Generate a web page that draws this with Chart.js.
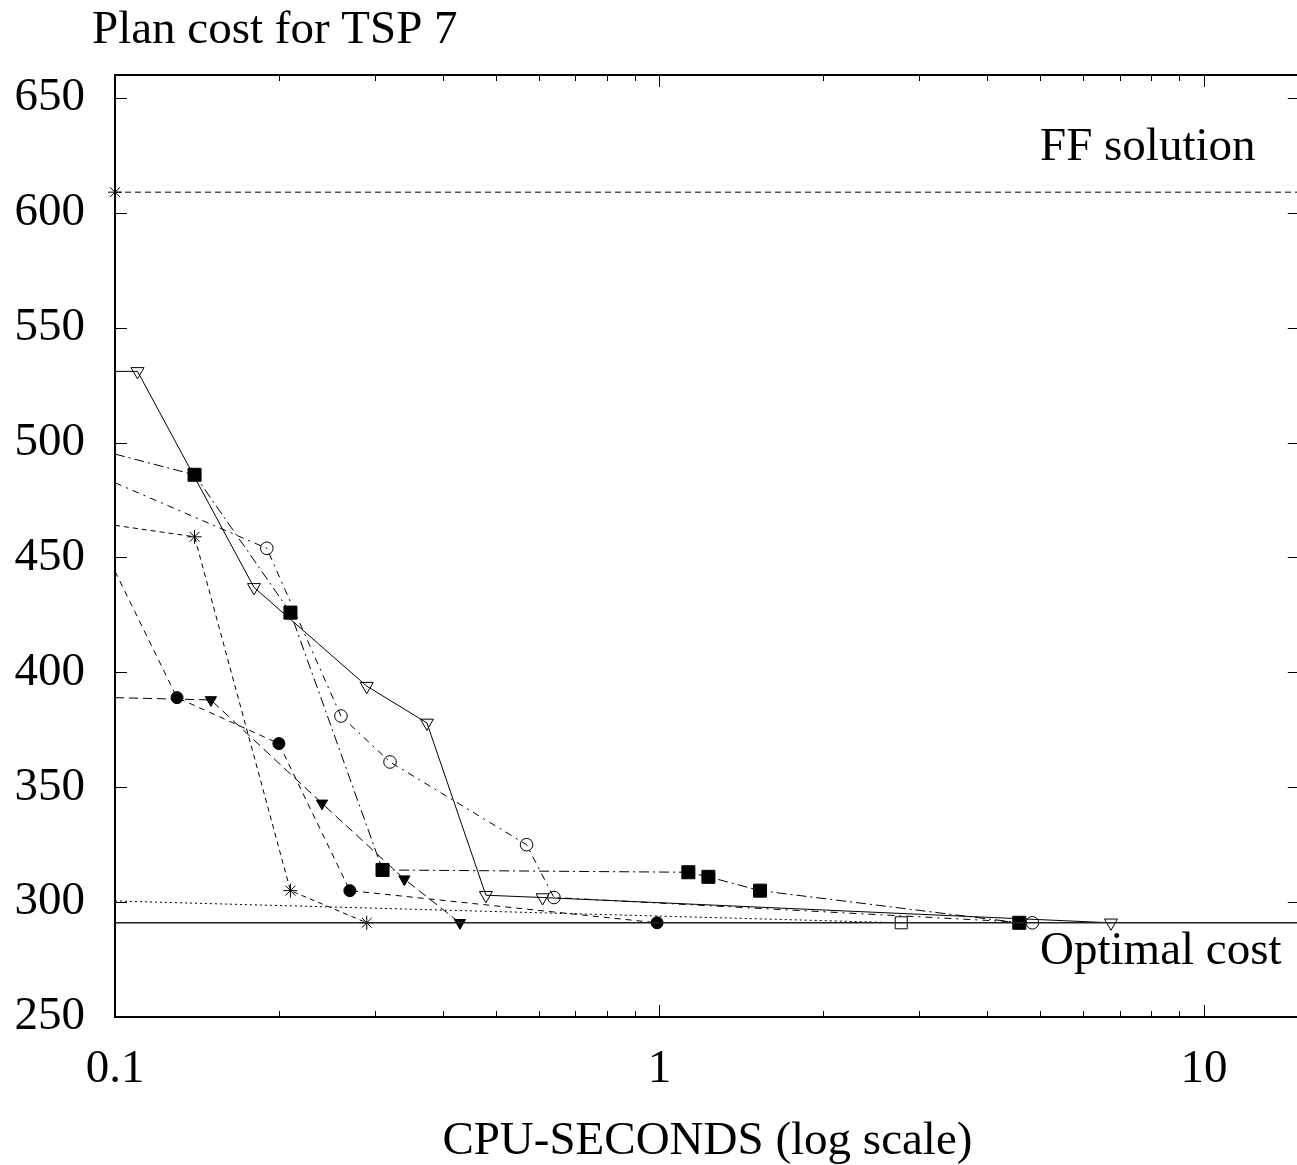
<!DOCTYPE html>
<html>
<head>
<meta charset="utf-8">
<script src="https://cdn.jsdelivr.net/npm/chart.js@4.4.1/dist/chart.umd.min.js"></script>
<style>
  html, body { margin: 0; padding: 0; background: #fff; overflow: hidden; width: 1297px; height: 1165px; }
  #wrap { width: 1297px; height: 1165px; overflow: hidden; position: relative; }
  #plot { display: block; position: absolute; left: 0; top: 0; }
</style>
</head>
<body>
<div id="wrap"><canvas id="plot" width="1310" height="1165"></canvas></div>
<script>
// CPU seconds / plan cost per search run (first entry is where each run enters the 0.1 s edge)
var triOpenSecs  = [0.1, 0.11, 0.18, 0.29, 0.374, 0.48, 0.61, 6.75];
var triOpenCost  = [531, 531, 437, 394, 378, 303, 302, 291];

var boxFillSecs  = [0.1, 0.14, 0.21, 0.31, 1.13, 1.23, 1.53, 4.58];
var boxFillCost  = [495, 486, 426, 314, 313, 311, 305, 291];

var ringSecs     = [0.1, 0.19, 0.26, 0.32, 0.57, 0.64, 4.84];
var ringCost     = [482.5, 454, 381, 361, 325, 302, 291];

var dotSecs      = [0.1, 0.13, 0.2, 0.27, 0.99];
var dotCost      = [444, 389, 369, 305, 291];

var triFillSecs  = [0.1, 0.15, 0.24, 0.34, 0.43];
var triFillCost  = [389, 388, 343, 310, 291];

var starSecs     = [0.1, 0.14, 0.21, 0.29];
var starCost     = [464, 459, 305, 291];

var boxOpenSecs  = [0.1, 2.78];
var boxOpenCost  = [300.5, 291];

// reference levels
var ffCost = 609;
var optimalCost = 291;
var refSecs = [0.1, 15];

var yTickValues = [250, 300, 350, 400, 450, 500, 550, 600, 650];
var xTickLabels = ['0.1', '1', '10'];

var FONT = '"Liberation Serif", "Times New Roman", serif';

function series(xs, ys, style, dash, radius, filled, rotation) {
  return {
    data: xs.map(function(v, i) { return {x: v, y: ys[i]}; }),
    borderColor: '#000',
    borderWidth: 1,
    borderDash: dash,
    tension: 0,
    fill: false,
    pointStyle: style,
    pointRotation: rotation || 0,
    // the edge entry carries no marker
    pointRadius: function(c) { return c.dataIndex === 0 ? 0 : radius; },
    pointBackgroundColor: filled ? '#000' : 'rgba(0,0,0,0)',
    pointBorderColor: '#000',
    pointBorderWidth: 1
  };
}

var ffLine = {
  data: refSecs.map(function(v) { return {x: v, y: ffCost}; }),
  borderColor: '#000', borderWidth: 1, borderDash: [6, 4], fill: false,
  pointStyle: 'star',
  pointRadius: function(c) { return c.dataIndex === 0 ? 7 : 0; },
  pointBorderColor: '#000', pointBorderWidth: 1,
  clip: false
};

var optimalLine = {
  data: refSecs.map(function(v) { return {x: v, y: optimalCost}; }),
  borderColor: '#222', borderWidth: 1.5, fill: false, pointRadius: 0
};

// inward ticks on all four sides plus the frame
var frameTicks = {
  id: 'frameTicks',
  afterDatasetsDraw: function(chart) {
    var ctx = chart.ctx, a = chart.chartArea, x = chart.scales.x, y = chart.scales.y;
    ctx.save();
    ctx.strokeStyle = '#000';
    ctx.lineWidth = 1;
    ctx.beginPath();
    yTickValues.forEach(function(v) {
      var py = Math.round(y.getPixelForValue(v)) + 0.5;
      ctx.moveTo(a.left, py); ctx.lineTo(a.left + 12, py);
      ctx.moveTo(a.right, py); ctx.lineTo(a.right - 12, py);
    });
    [0.1, 1, 10].forEach(function(dec) {
      for (var m = 1; m <= 9; m++) {
        var v = dec * m;
        if (v > x.max) break;
        var len = m === 1 ? 12 : 6;
        var px = Math.round(x.getPixelForValue(v)) + 0.5;
        ctx.moveTo(px, a.bottom); ctx.lineTo(px, a.bottom - len);
        ctx.moveTo(px, a.top); ctx.lineTo(px, a.top + len);
      }
    });
    ctx.stroke();
    ctx.lineWidth = 2;
    ctx.strokeRect(a.left, a.top, a.right - a.left, a.bottom - a.top);
    ctx.restore();
  }
};

var captions = {
  id: 'captions',
  afterDraw: function(chart) {
    var ctx = chart.ctx, a = chart.chartArea, x = chart.scales.x, y = chart.scales.y;
    ctx.save();
    ctx.fillStyle = '#000';
    ctx.font = '47px ' + FONT;
    ctx.textBaseline = 'alphabetic';
    ctx.textAlign = 'left';
    ctx.fillText('Plan cost for TSP 7', 92, 43);
    ctx.fillText('FF solution', x.getPixelForValue(5), y.getPixelForValue(623));
    ctx.fillText('Optimal cost', x.getPixelForValue(5), y.getPixelForValue(273));
    ctx.textAlign = 'center';
    ctx.fillText('CPU-SECONDS (log scale)', (a.left + a.right) / 2, 1154);
    ctx.restore();
  }
};

new Chart(document.getElementById('plot'), {
  type: 'line',
  data: {
    datasets: [
      optimalLine,
      ffLine,
      series(boxOpenSecs, boxOpenCost, 'rect', [2, 3], 8.5, false),
      series(starSecs, starCost, 'star', [5, 4], 7, false),
      series(dotSecs, dotCost, 'circle', [6, 5], 6, true),
      series(triFillSecs, triFillCost, 'triangle', [9, 5], 6.5, true, 180),
      series(ringSecs, ringCost, 'circle', [7, 5, 2, 5], 6.3, false),
      series(boxFillSecs, boxFillCost, 'rect', [10, 4, 2, 4], 9.2, true),
      series(triOpenSecs, triOpenCost, 'triangle', [], 7.5, false, 180)
    ]
  },
  options: {
    responsive: false,
    animation: false,
    events: [],
    layout: { padding: { top: 75, right: 7, left: 0, bottom: 0 } },
    plugins: { legend: { display: false }, tooltip: { enabled: false } },
    scales: {
      x: {
        type: 'logarithmic',
        min: 0.1,
        max: 15,
        grid: { display: false, drawTicks: false },
        border: { display: false },
        ticks: {
          autoSkip: false,
          maxRotation: 0,
          padding: 24,
          color: '#000',
          font: { family: FONT, size: 47 },
          callback: function(v) {
            for (var i = 0; i < xTickLabels.length; i++) {
              if (Math.abs(v - parseFloat(xTickLabels[i])) < 1e-9) return xTickLabels[i];
            }
            return '';
          }
        },
        afterFit: function(s) {
          s.height = 148;
          // the frame runs on past the right edge; no room kept for labels there
          s.paddingRight = 0;
        }
      },
      y: {
        min: 250,
        max: 660,
        grid: { display: false, drawTicks: false },
        border: { display: false },
        ticks: {
          stepSize: 50,
          includeBounds: false,
          padding: 30,
          color: '#000',
          font: { family: FONT, size: 47 },
          callback: function(v) { return yTickValues.indexOf(v) >= 0 ? String(v) : ''; }
        },
        afterFit: function(s) { s.width = 115; }
      }
    }
  },
  plugins: [frameTicks, captions]
});
</script>
</body>
</html>
